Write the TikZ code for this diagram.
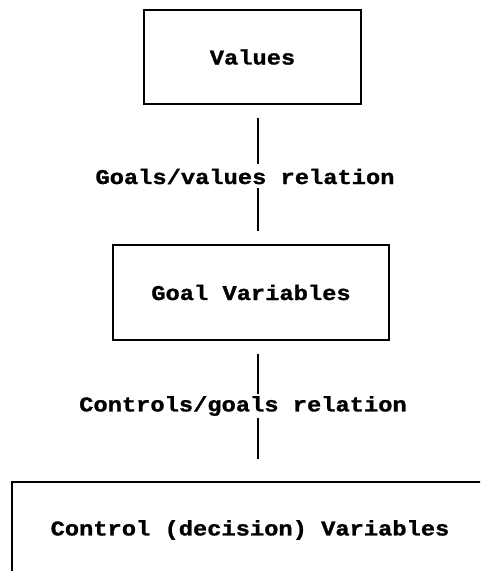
\documentclass[tikz,border=0pt]{standalone}
\usepackage{fontspec}
\newfontfamily\courfont{Liberation Mono}[FakeStretch=1.13, BoldFeatures={FakeBold=1.2}]
\begin{document}
\begin{tikzpicture}[x=1pt,y=1pt,
  box/.style={draw=black, line width=1.4pt, inner sep=0pt, align=center,
    font=\courfont\bfseries\fontsize{21}{24}\selectfont},
  rel/.style={fill=white, inner sep=0pt, minimum height=24pt,
    font=\courfont\bfseries\fontsize{21}{24}\selectfont},
  link/.style={draw=black, line width=1.2pt, shorten <=13pt, shorten >=13pt}]
\useasboundingbox (0,0) rectangle (480,571);
\clip (0,0) rectangle (480,571);
\coordinate (ax) at (258,0);
\node[box, minimum width=217pt, minimum height=94pt] (values) at (252.5,514) {Values};
\node[box, minimum width=276pt, minimum height=95pt] (goals) at (251,278.5) {Goal Variables};
\node[box, minimum width=476pt, minimum height=96pt] (control) at (250,41) {Control (decision) Variables};
\draw[link] (values.south -| ax) -- (goals.north -| ax);
\draw[link, shorten >=22pt] (goals.south -| ax) -- (control.north -| ax);
\node[rel] (gvrel) at (245,394.5) {Goals/values relation};
\node[rel] (cgrel) at (243,165) {Controls/goals relation};
\end{tikzpicture}
\end{document}
